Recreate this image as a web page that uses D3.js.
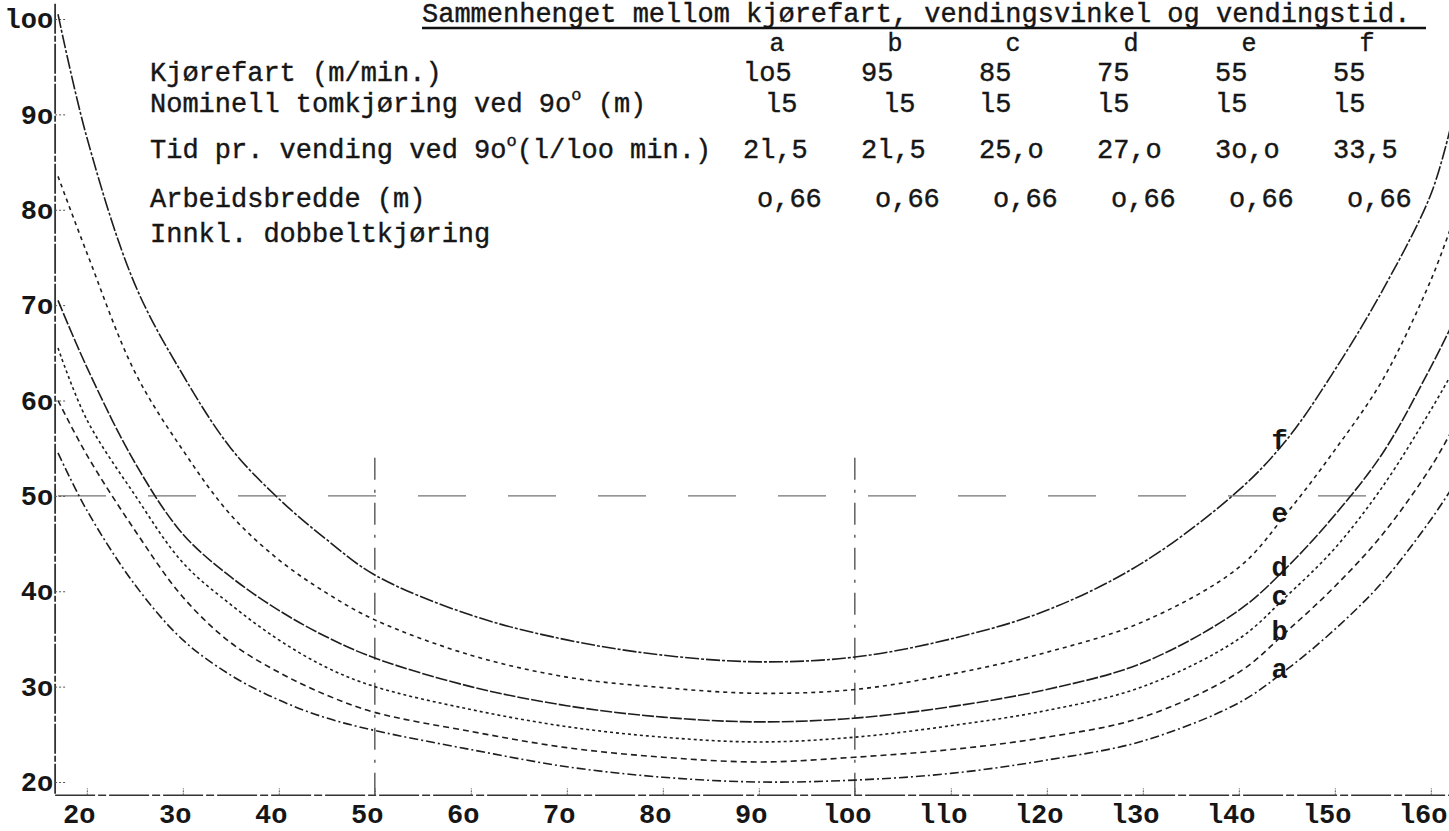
<!DOCTYPE html>
<html>
<head>
<meta charset="utf-8">
<script src="https://cdn.jsdelivr.net/npm/d3@7"></script>
<style>
  body { margin: 0; background: #fff; }
  svg text { font-family: "Liberation Mono", "DejaVu Sans Mono", monospace; fill: #161616; }
</style>
</head>
<body>
<svg id="chart" width="1449" height="831"></svg>
<script>
// vendingsvinkel (grader) langs x-aksen
const angles = [17, 20, 25, 30, 35, 40, 45, 50, 60, 70, 80, 90, 100, 110, 120, 130, 140, 145, 150, 155, 160, 162]
// tid pr. vending (1/100 min.) for hver kurve
const curveA = [54.5, 48.5, 40.7, 34.9, 31.2, 28.6, 26.7, 25.4, 23.4, 21.6, 20.5, 20.0, 20.2, 20.9, 22.3, 24.3, 28.3, 31.8, 36.0, 41.0, 47.5, 50.5]
const curveB = [60.0, 54.3, 46.4, 39.4, 34.6, 31.5, 29.1, 27.3, 25.3, 23.6, 22.6, 22.1, 22.6, 23.4, 24.7, 26.8, 31.5, 35.8, 40.5, 46.0, 53.0, 56.5]
const curveC = [65.5, 58.0, 50.1, 43.0, 38.6, 34.9, 32.0, 30.0, 27.6, 25.8, 24.7, 24.2, 24.7, 25.9, 27.5, 30.0, 35.0, 39.5, 44.5, 51.0, 59.0, 62.5]
const curveD = [70.5, 63.5, 53.5, 46.0, 41.5, 38.0, 35.2, 33.0, 30.0, 28.0, 26.8, 26.3, 26.7, 27.9, 29.7, 32.5, 38.0, 42.5, 48.0, 54.5, 63.5, 67.5]
const curveE = [83.5, 75.5, 63.0, 54.8, 48.0, 43.3, 39.8, 37.0, 33.3, 31.0, 29.9, 29.3, 29.7, 31.3, 33.6, 36.8, 42.5, 48.2, 54.8, 62.2, 72.6, 77.9]
const curveF = [100.5, 87.6, 72.2, 62.7, 55.0, 49.7, 45.4, 41.7, 37.5, 34.9, 33.3, 32.6, 33.1, 35.0, 38.0, 43.0, 50.6, 55.9, 63.2, 71.6, 81.6, 88.4]

const curveKeys = ['a', 'b', 'c', 'd', 'e', 'f']
const curveValues = [curveA, curveB, curveC, curveD, curveE, curveF]

// tabellen øverst
const kjorefart = [105, 95, 85, 75, 55, 55]
const tomkjoring = [15, 15, 15, 15, 15, 15]
const tidVed90 = [21.5, 21.5, 25.0, 27.0, 30.0, 33.5]
const arbeidsbredde = [0.66, 0.66, 0.66, 0.66, 0.66, 0.66]

const xTicks = [20, 30, 40, 50, 60, 70, 80, 90, 100, 110, 120, 130, 140, 150, 160]
const yTicks = [20, 30, 40, 50, 60, 70, 80, 90, 100]

const title = 'Sammenhenget mellom kjørefart, vendingsvinkel og vendingstid.'

// skrivemaskin-tall: l for 1, o for 0
const typed = (s) => String(s).replace(/0/g, 'o').replace(/1/g, 'l')
const typedNum = (v, dec) => typed(v.toFixed(dec).replace('.', ','))

const svg = d3.select('#chart')
const width = 1449
const height = 831
const fontSize = 27

svg.append('rect').attr('width', width).attr('height', height).attr('fill', '#fff')

const x = d3.scaleLinear().domain([20, 160]).range([86.8, 1430.8])
const y = d3.scaleLinear().domain([20, 100]).range([782, 19])

const xMin = 16.7
const xMax = 162
const yFloor = 18.6
const yTop = 101.6

// clip for kurvene
svg.append('clipPath').attr('id', 'plot-clip')
  .append('rect')
  .attr('x', x(xMin))
  .attr('y', y(yTop))
  .attr('width', x(xMax) - x(xMin))
  .attr('height', y(yFloor) - y(yTop))

// hjelpelinjer (stiplet)
const guides = svg.append('g').attr('stroke', '#444').attr('fill', 'none')
guides.append('line')
  .attr('x1', x(17)).attr('x2', x(155))
  .attr('y1', y(50)).attr('y2', y(50))
  .attr('stroke-width', 1.4)
  .attr('stroke-dasharray', '48 42')
  .attr('stroke-opacity', 0.75)
;[50, 100].forEach((v) => {
  guides.append('line')
    .attr('x1', x(v)).attr('x2', x(v))
    .attr('y1', y(54)).attr('y2', y(yFloor))
    .attr('stroke-width', 1.6)
    .attr('stroke-dasharray', '22 10 3 10')
    .attr('stroke-opacity', 0.8)
})

// akser
const axes = svg.append('g').attr('stroke', '#333').attr('fill', 'none')
axes.append('line')
  .attr('x1', x(xMin)).attr('x2', x(xMin))
  .attr('y1', y(yTop)).attr('y2', y(yFloor))
  .attr('stroke-width', 1.8)
  .attr('stroke-dasharray', '30 2 6 2')
axes.append('line')
  .attr('x1', x(xMin)).attr('x2', x(xMax))
  .attr('y1', y(yFloor)).attr('y2', y(yFloor))
  .attr('stroke-width', 1.5)
  .attr('stroke-dasharray', '40 3 8 3')

const xAxis = d3.axisBottom(x)
  .tickValues(xTicks)
  .tickSize(-7)
  .tickPadding(8)
  .tickFormat(typed)

svg.append('g')
  .attr('class', 'x-axis')
  .attr('transform', `translate(0,${y(yFloor)})`)
  .call(xAxis)
  .call((g) => g.select('.domain').remove())
  .call((g) => g.selectAll('.tick line').attr('stroke', '#555').attr('stroke-dasharray', '2 1'))
  .call((g) => g.selectAll('.tick text')
    .attr('font-size', fontSize)
    .attr('font-weight', 'bold')
    .attr('dx', '-0.3em')
    .attr('fill', '#161616'))

const yAxis = d3.axisLeft(y)
  .tickValues(yTicks)
  .tickSize(-12)
  .tickPadding(2)
  .tickFormat(typed)

svg.append('g')
  .attr('class', 'y-axis')
  .attr('transform', `translate(${x(xMin)},0)`)
  .call(yAxis)
  .call((g) => g.select('.domain').remove())
  .call((g) => g.selectAll('.tick line').attr('stroke', '#555').attr('stroke-dasharray', '2 2'))
  .call((g) => g.selectAll('.tick text')
    .attr('font-size', fontSize)
    .attr('font-weight', 'bold')
    .attr('fill', '#161616'))

// kurvene a-f
const line = d3.line()
  .x((d) => x(d[0]))
  .y((d) => y(d[1]))
  .curve(d3.curveCatmullRom.alpha(0.5))

const dashes = ['9 3 2 3', '6 4', '3 3', '12 2', '4 4', '14 2 3 2']
const curves = svg.append('g').attr('clip-path', 'url(#plot-clip)')
curveKeys.forEach((key, i) => {
  const points = angles.map((a, j) => [a, curveValues[i][j]])
  curves.append('path')
    .datum(points)
    .attr('fill', 'none')
    .attr('stroke', '#1e1e1e')
    .attr('stroke-width', 1.6)
    .attr('stroke-dasharray', dashes[i])
    .attr('d', line)
})

// kurvebokstaver ved 145 grader, like til venstre for kurven
const labelAngle = 145
const labelIdx = angles.indexOf(labelAngle)
svg.append('g')
  .selectAll('text')
  .data(curveKeys)
  .join('text')
  .attr('x', x(labelAngle) + 1)
  .attr('y', (d, i) => y(curveValues[i][labelIdx]) + 9)
  .attr('text-anchor', 'end')
  .attr('font-size', fontSize)
  .attr('font-weight', 'bold')
  .text((d) => d)

// tittel med understreking
const titleG = svg.append('g')
titleG.append('text')
  .attr('x', 422)
  .attr('y', 22)
  .attr('font-size', fontSize)
  .attr('stroke', '#161616')
  .attr('stroke-width', 0.4)
  .text(title)
titleG.append('line')
  .attr('x1', 422).attr('x2', 1426)
  .attr('y1', 28).attr('y2', 28)
  .attr('stroke', '#111')
  .attr('stroke-width', 2.6)

// tabell
const table = svg.append('g')
  .attr('font-size', fontSize)
  .attr('stroke', '#161616')
  .attr('stroke-width', 0.4)
const col = d3.scalePoint().domain(curveKeys).range([743, 1333])
const labelX = 150

table.selectAll('.col-head')
  .data(curveKeys)
  .join('text')
  .attr('class', 'col-head')
  .attr('x', (d) => col(d) + 34)
  .attr('y', 51)
  .attr('font-size', 25)
  .attr('text-anchor', 'middle')
  .text((d) => d)

const rowLabel = (yPos, parts) => {
  const t = table.append('text').attr('x', labelX).attr('y', yPos)
  parts.forEach((p) => {
    const s = t.append('tspan').text(p.text)
    if (p.sup) s.attr('font-size', 17).attr('dy', -12)
    if (p.down) s.attr('dy', 12)
  })
}

rowLabel(81, [{ text: 'Kjørefart (m/min.)' }])
rowLabel(112, [{ text: 'Nominell tomkjøring ved 9o' }, { text: 'o', sup: true }, { text: ' (m)', down: true }])
rowLabel(158, [{ text: 'Tid pr. vending ved 9o' }, { text: 'o', sup: true }, { text: '(l/loo min.)', down: true }])
rowLabel(207, [{ text: 'Arbeidsbredde (m)' }])
rowLabel(242, [{ text: 'Innkl. dobbeltkjøring' }])

const rows = [
  { vals: kjorefart, yPos: 81, fmt: (v) => typed(v), dx: () => 0 },
  { vals: tomkjoring, yPos: 112, fmt: (v) => typed(v), dx: (i) => (i < 2 ? 22 : 0) },
  { vals: tidVed90, yPos: 158, fmt: (v) => typedNum(v, 1), dx: () => 0 },
  { vals: arbeidsbredde, yPos: 207, fmt: (v) => typedNum(v, 2), dx: () => 14 }
]
rows.forEach((r) => {
  table.append('g')
    .selectAll('text')
    .data(r.vals)
    .join('text')
    .attr('x', (d, i) => col(curveKeys[i]) + r.dx(i))
    .attr('y', r.yPos)
    .text(r.fmt)
})
</script>
</body>
</html>
